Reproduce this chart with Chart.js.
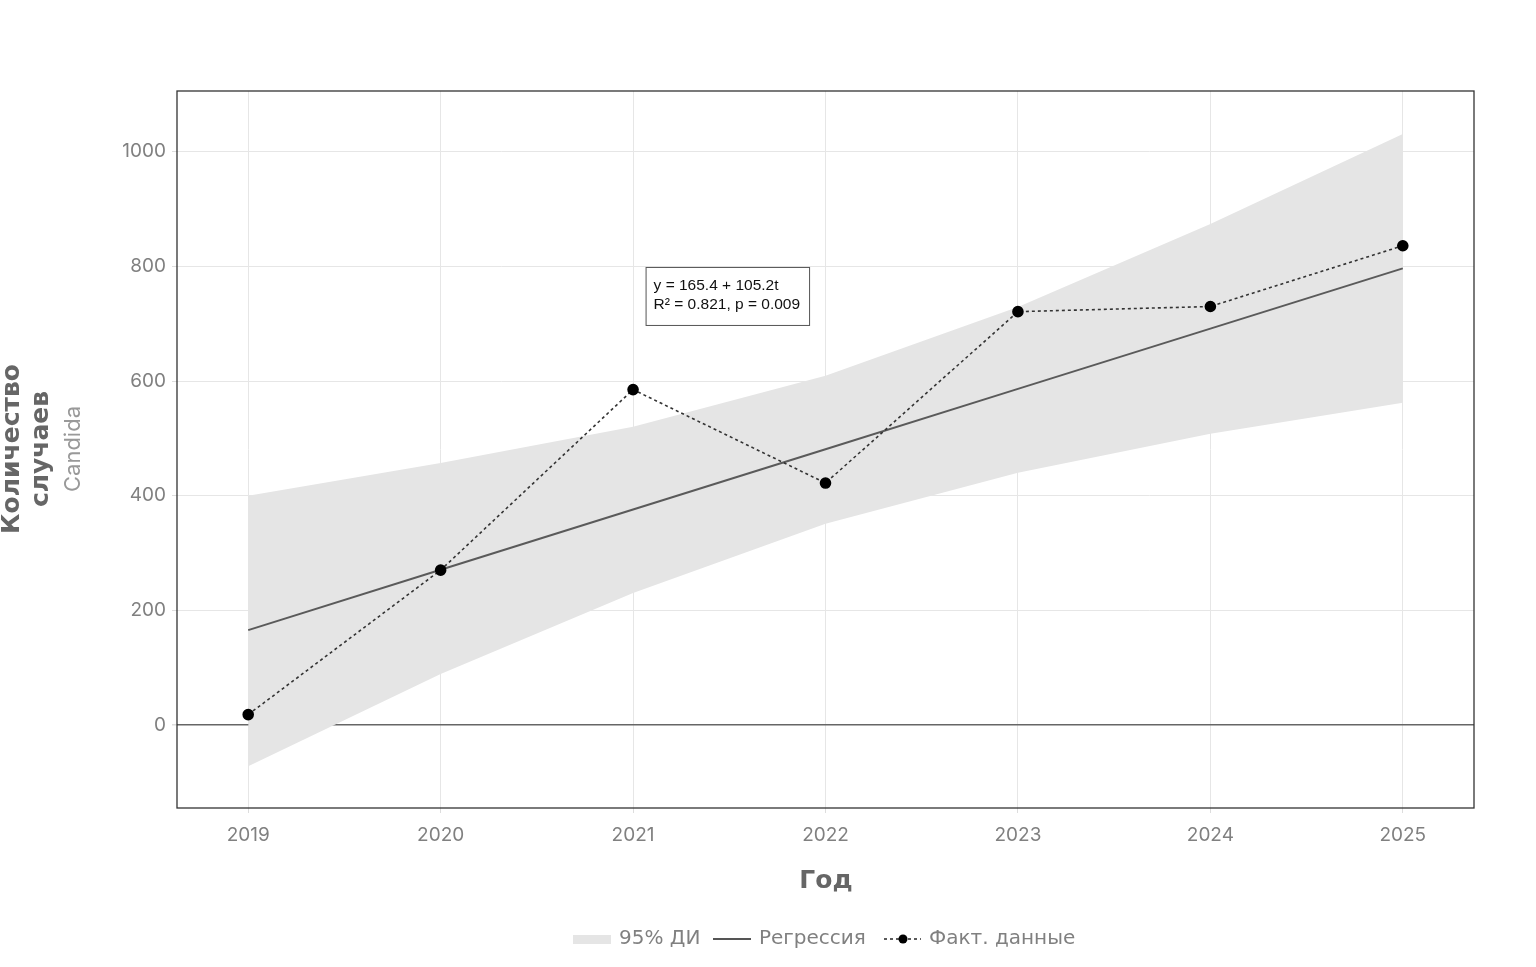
<!DOCTYPE html>
<html>
<head>
<meta charset="utf-8">
<script src="https://cdn.jsdelivr.net/npm/chart.js@4.4.1/dist/chart.umd.min.js"></script>
<style>
  html, body { margin: 0; padding: 0; background: #fff; }
  #wrap { width: 1536px; height: 967px; position: relative; }
</style>
</head>
<body>
<div id="wrap"><canvas id="trend"></canvas></div>
<script>
// data
const years = [2019, 2020, 2021, 2022, 2023, 2024, 2025];
const actual = [18, 270, 585, 422, 721, 730, 836];
const regression = [165.4, 270.6, 375.8, 481.0, 586.2, 691.4, 796.6];
const ciUpper = [400, 457, 520, 609, 729, 874, 1031];
const ciLower = [-72, 89, 230, 351, 440, 508, 562];
const yTicks = [0, 200, 400, 600, 800, 1000];
const eqLines = ['y = 165.4 + 105.2t', 'R\u00b2 = 0.821, p = 0.009'];

const pts = arr => years.map((y, i) => ({ x: y, y: arr[i] }));

const frameAndLabels = {
  id: 'frameAndLabels',
  afterDatasetsDraw(chart) {
    const { ctx, chartArea: a, scales } = chart;
    ctx.save();
    // frame
    ctx.strokeStyle = '#333';
    ctx.lineWidth = 1.3;
    ctx.strokeRect(a.left, a.top, a.right - a.left, a.bottom - a.top);

    // equation box
    const bx = scales.x.getPixelForValue(2021.065);
    const by = scales.y.getPixelForValue(799);
    ctx.font = '15.5px "Liberation Sans", Arial, sans-serif';
    const w = Math.max(...eqLines.map(t => ctx.measureText(t).width)) + 17;
    ctx.fillStyle = '#fff';
    ctx.fillRect(bx, by, w, 58);
    ctx.strokeStyle = '#555';
    ctx.lineWidth = 1;
    ctx.strokeRect(bx + 0.5, by + 0.5, w, 58);
    ctx.fillStyle = '#111';
    ctx.textBaseline = 'middle';
    ctx.fillText(eqLines[0], bx + 8, by + 19);
    ctx.fillText(eqLines[1], bx + 8, by + 38);
    ctx.restore();
  },
  afterDraw(chart) {
    const { ctx } = chart;
    ctx.save();
    // y title
    ctx.translate(0, 449);
    ctx.rotate(-Math.PI / 2);
    ctx.textAlign = 'center';
    ctx.textBaseline = 'middle';
    ctx.fillStyle = '#666';
    ctx.font = 'bold 25px "DejaVu Sans", sans-serif';
    ctx.fillText('Количество', 0, 12);
    ctx.fillText('случаев', 0, 41);
    ctx.fillStyle = '#999';
    ctx.font = '22px "Inter", sans-serif';
    ctx.fillText('Candida', 0, 73);
    ctx.restore();

    // x title
    ctx.save();
    ctx.fillStyle = '#666';
    ctx.font = 'bold 25px "DejaVu Sans", sans-serif';
    ctx.textAlign = 'center';
    ctx.textBaseline = 'middle';
    ctx.fillText('Год', 826, 881);

    // legend
    const ly = 939;
    ctx.font = '20px "DejaVu Sans", sans-serif';
    ctx.textAlign = 'left';
    ctx.fillStyle = '#e5e5e5';
    ctx.fillRect(573, ly - 4, 38, 9);
    ctx.fillStyle = '#808080';
    ctx.fillText('95% ДИ', 619, ly);
    ctx.strokeStyle = '#555';
    ctx.lineWidth = 2;
    ctx.beginPath(); ctx.moveTo(713, ly); ctx.lineTo(751, ly); ctx.stroke();
    ctx.fillText('Регрессия', 759, ly);
    ctx.strokeStyle = '#333';
    ctx.lineWidth = 1.6;
    ctx.setLineDash([3, 3]);
    ctx.beginPath(); ctx.moveTo(884, ly); ctx.lineTo(921, ly); ctx.stroke();
    ctx.setLineDash([]);
    ctx.fillStyle = '#000';
    ctx.beginPath(); ctx.arc(903, ly, 4.5, 0, Math.PI * 2); ctx.fill();
    ctx.fillStyle = '#808080';
    ctx.fillText('Факт. данные', 929, ly);
    ctx.restore();
  }
};

new Chart(document.getElementById('trend'), {
  type: 'scatter',
  data: {
    datasets: [
      {
        label: 'upper',
        data: pts(ciUpper),
        showLine: true,
        borderWidth: 0,
        borderColor: 'rgba(0,0,0,0)',
        pointRadius: 0,
        fill: false,
        tension: 0,
        order: 4
      },
      {
        label: '95% ДИ',
        data: pts(ciLower),
        showLine: true,
        borderWidth: 0,
        borderColor: 'rgba(0,0,0,0)',
        backgroundColor: '#e5e5e5',
        pointRadius: 0,
        fill: '-1',
        tension: 0,
        order: 3
      },
      {
        label: 'Регрессия',
        data: pts(regression),
        showLine: true,
        borderColor: '#5a5a5a',
        borderWidth: 2,
        pointRadius: 0,
        fill: false,
        order: 2
      },
      {
        label: 'Факт. данные',
        data: pts(actual),
        showLine: true,
        borderColor: '#333',
        borderWidth: 1.6,
        borderDash: [3, 3],
        pointRadius: 5,
        pointBackgroundColor: '#000',
        pointBorderColor: '#000',
        fill: false,
        order: 1
      }
    ]
  },
  options: {
    responsive: true,
    maintainAspectRatio: false,
    animation: false,
    layout: { padding: { top: 91, right: 62, bottom: 0, left: 0 } },
    plugins: {
      legend: { display: false },
      tooltip: { enabled: false }
    },
    scales: {
      x: {
        type: 'linear',
        min: 2018.63,
        max: 2025.37,
        afterBuildTicks: s => { s.ticks = years.map(v => ({ value: v })); },
        afterFit: s => { s.height = 159; },
        grid: { color: '#e6e6e6', lineWidth: 1, tickLength: 5, tickColor: '#ddd' },
        border: { display: false },
        ticks: {
          color: '#808080',
          padding: 11,
          font: { family: 'Inter', size: 19 },
          callback: v => String(v)
        }
      },
      y: {
        min: -145,
        max: 1106,
        afterBuildTicks: s => { s.ticks = yTicks.map(v => ({ value: v })); },
        afterFit: s => { s.width = 177; },
        grid: {
          color: c => c.tick && c.tick.value === 0 ? '#666' : '#e6e6e6',
          lineWidth: c => c.tick && c.tick.value === 0 ? 1.5 : 1,
          tickLength: 5,
          tickColor: '#ddd'
        },
        border: { display: false },
        ticks: {
          color: '#808080',
          padding: 6,
          font: { family: 'Inter', size: 19 },
          callback: v => String(v)
        }
      }
    }
  },
  plugins: [frameAndLabels]
});
</script>
</body>
</html>
